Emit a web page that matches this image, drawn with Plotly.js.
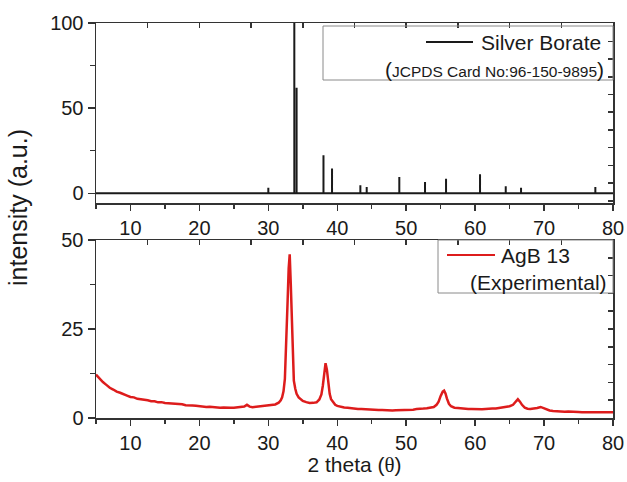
<!DOCTYPE html>
<html>
<head>
<meta charset="utf-8">
<script src="https://cdn.plot.ly/plotly-3.0.1.min.js"></script>
<style>html,body{margin:0;padding:0;background:#fff;}</style>
</head>
<body>
<div id="chart" style="width:627px;height:482px;"></div>
<script>
// Reference pattern: Silver Borate (JCPDS Card No:96-150-9895)
const stickPos = [30.0, 33.77, 34.1, 38.0, 39.24, 43.35, 44.27, 49.0, 52.73, 55.78, 60.71, 64.44, 66.66, 77.44];
const stickInt = [3.3, 100, 62, 22.3, 14.5, 4.7, 3.7, 9.6, 6.7, 8.6, 11.2, 4.1, 3.3, 3.7];

// Experimental pattern: AgB 13
const expX = [5, 5.5, 6, 6.5, 7, 7.5, 8, 8.5, 9, 9.5, 10, 10.5, 11, 11.5, 12, 12.5, 13, 13.5, 14, 14.5,
  15, 15.5, 16, 16.5, 17, 17.5, 18, 18.5, 19, 19.5, 20, 20.5, 21, 21.5, 22, 22.5, 23, 23.5, 24, 24.5,
  25, 25.5, 26, 26.5, 26.9, 27.3, 27.7, 28, 28.5, 29, 29.5, 30, 30.5, 31, 31.5, 31.8, 32.0, 32.2, 32.4, 32.6,
  32.8, 32.95, 33.1, 33.25, 33.4, 33.55, 33.7, 33.9, 34.1, 34.4, 34.7, 35.0, 35.5, 36.0, 36.5, 37.0, 37.4, 37.7, 37.9, 38.1,
  38.3, 38.5, 38.7, 38.9, 39.1, 39.4, 39.7, 40, 40.5, 41, 41.5, 42, 42.5, 43, 43.5, 44, 44.5, 45, 45.5, 46,
  46.5, 47, 47.5, 48, 48.5, 49, 49.5, 50, 50.5, 51, 51.5, 52, 52.5, 53, 53.5, 54, 54.4, 54.7, 55.0, 55.3,
  55.5, 55.7, 55.9, 56.2, 56.5, 57, 57.5, 58, 58.5, 59, 59.5, 60, 60.5, 61, 61.5, 62, 62.5, 63, 63.5, 64,
  64.5, 65, 65.5, 65.9, 66.2, 66.5, 66.8, 67.2, 67.6, 68, 68.5, 69, 69.5, 69.9, 70.3, 70.8, 71.3, 71.8, 72.5, 73,
  73.5, 74, 74.5, 75, 75.5, 76, 76.5, 77, 77.5, 78, 78.5, 79, 79.5, 80];
const expY = [12.2, 11.0, 10.1, 9.3, 8.5, 8.0, 7.4, 7.1, 6.6, 6.3, 5.9, 5.8, 5.4, 5.3, 5.0, 5.0, 4.7, 4.7, 4.4, 4.45,
  4.2, 4.15, 4.0, 3.95, 3.8, 3.85, 3.6, 3.65, 3.5, 3.45, 3.3, 3.25, 3.1, 3.15, 3.0, 3.05, 2.9, 2.95, 2.8, 2.85,
  2.9, 2.95, 3.0, 3.2, 3.7, 3.2, 3.05, 3.1, 3.25, 3.3, 3.45, 3.5, 3.65, 3.8, 4.3, 5.0, 5.8, 7.5, 11.0, 20.0,
  33.0, 42.0, 46.0, 38.0, 26.0, 15.0, 10.5, 8.3, 6.8, 5.8, 5.2, 4.8, 4.45, 4.2, 4.25, 4.4, 5.2, 6.6, 9.0, 12.8,
  15.4, 13.5, 9.6, 6.8, 5.3, 4.3, 3.7, 3.4, 3.1, 2.95, 2.9, 2.75, 2.7, 2.55, 2.55, 2.45, 2.4, 2.3, 2.35, 2.25,
  2.25, 2.15, 2.2, 2.1, 2.2, 2.2, 2.25, 2.2, 2.3, 2.35, 2.5, 2.5, 2.65, 2.75, 2.95, 3.1, 3.7, 4.6, 6.2, 7.4,
  7.7, 6.9, 5.5, 4.0, 3.3, 2.9, 2.8, 2.65, 2.65, 2.5, 2.5, 2.45, 2.5, 2.45, 2.55, 2.5, 2.65, 2.65, 2.8, 2.85,
  3.0, 3.3, 3.7, 4.6, 5.3, 4.6, 3.7, 2.9, 2.6, 2.55, 2.65, 2.8, 3.1, 2.8, 2.4, 2.1, 1.95, 1.85, 1.8, 1.75,
  1.8, 1.7, 1.75, 1.7, 1.65, 1.7, 1.65, 1.6, 1.65, 1.6, 1.65, 1.6, 1.6, 1.6];

const seriesRef = 'Silver Borate';
const seriesRefNote = '(JCPDS Card No:96-150-9895)';
const seriesExp = 'AgB 13';
const seriesExpNote = '(Experimental)';
const xTitle = '2 theta (θ)';
const yTitle = 'intensity (a.u.)';

// build stick pattern polyline with baseline
const sx = [5], sy = [0];
for (let i = 0; i < stickPos.length; i++) {
  sx.push(stickPos[i], stickPos[i], stickPos[i]);
  sy.push(0, stickInt[i], 0);
}
sx.push(80); sy.push(0);

const FONT = 'Liberation Sans, Arial, sans-serif';
const AX = '#333333';
const TXT = '#1a1a1a';

const traces = [
  {x: sx, y: sy, xaxis: 'x2', yaxis: 'y2', mode: 'lines', name: seriesRef,
   line: {color: '#1a1a1a', width: 2}, hoverinfo: 'skip', showlegend: false},
  {x: expX, y: expY, xaxis: 'x', yaxis: 'y', mode: 'lines', name: seriesExp,
   line: {color: '#dd1c1c', width: 2.5}, showlegend: false},
  // carriers for the mirrored (inside-tick) frame axes
  {x: expX, y: expY, xaxis: 'x3', yaxis: 'y3', mode: 'none', hoverinfo: 'skip', showlegend: false},
  {x: sx, y: sy, xaxis: 'x4', yaxis: 'y4', mode: 'none', hoverinfo: 'skip', showlegend: false}
];

const tickFont = {family: FONT, size: 20, color: TXT};
const baseX = {
  range: [5, 80], dtick: 10, tick0: 0, ticks: 'outside', ticklen: 6, tickwidth: 1.5, tickcolor: AX,
  showline: true, linecolor: AX, linewidth: 1.5, showgrid: false, zeroline: false,
  minor: {dtick: 5, tick0: 0, ticks: 'outside', ticklen: 4, tickwidth: 1.5, tickcolor: AX, showgrid: false},
  tickfont: tickFont
};
const mirX = {
  range: [5, 80], tick0: 5, dtick: 7.5, ticks: 'inside', ticklen: 5, tickwidth: 1.5, tickcolor: AX,
  showline: true, linecolor: AX, linewidth: 1.5, showgrid: false, zeroline: false, showticklabels: false,
  side: 'top'
};
const mirY = {
  ticks: 'inside', ticklen: 5, tickwidth: 1.5, tickcolor: AX, side: 'right',
  showline: true, linecolor: AX, linewidth: 1.5, showgrid: false, zeroline: false, showticklabels: false
};

const P = (py) => (418 - py) / 395;      // pixel y -> paper y
const PX = (px) => (px - 96) / 517;      // pixel x -> paper x

const layout = {
  width: 627, height: 482,
  margin: {l: 96, r: 14, t: 23, b: 64},
  paper_bgcolor: '#ffffff', plot_bgcolor: '#ffffff',
  font: {family: FONT, color: TXT},
  showlegend: false,
  xaxis: Object.assign({}, baseX, {anchor: 'y', domain: [0, 1],
    title: {text: '2 theta (<span style="font-family:Liberation Serif, serif">θ</span>)',
            font: {family: FONT, size: 21, color: TXT}, standoff: 5}}),
  yaxis: {domain: [0, P(240)], anchor: 'x', range: [0, 50], dtick: 25, tick0: 0,
    ticks: 'outside', ticklen: 7, tickwidth: 1.5, tickcolor: AX,
    showline: true, linecolor: AX, linewidth: 1.5, showgrid: false, zeroline: false,
    minor: {dtick: 12.5, tick0: 0, ticks: 'outside', ticklen: 5, tickwidth: 1.5, tickcolor: AX, showgrid: false},
    tickfont: tickFont},
  xaxis2: Object.assign({}, baseX, {anchor: 'y2', domain: [0, 1]}),
  yaxis2: {domain: [P(203), 1], anchor: 'x2', range: [-5.7, 100], dtick: 50, tick0: 0,
    ticks: 'outside', ticklen: 7, tickwidth: 1.5, tickcolor: AX,
    showline: true, linecolor: AX, linewidth: 1.5, showgrid: false, zeroline: false,
    minor: {dtick: 25, tick0: 0, ticks: 'outside', ticklen: 5, tickwidth: 1.5, tickcolor: AX, showgrid: false},
    tickfont: tickFont},
  xaxis3: Object.assign({}, mirX, {overlaying: 'x', anchor: 'y3'}),
  yaxis3: Object.assign({}, mirY, {overlaying: 'y', anchor: 'x3', range: [0, 50], tick0: 0, dtick: 5}),
  xaxis4: Object.assign({}, mirX, {overlaying: 'x2', anchor: 'y4'}),
  yaxis4: Object.assign({}, mirY, {overlaying: 'y2', anchor: 'x4', range: [-5.7, 100], tick0: 6, dtick: 10.4}),
  shapes: [
    {type: 'rect', xref: 'paper', yref: 'paper', x0: PX(323), x1: PX(613), y0: P(80), y1: P(26),
     line: {color: '#8a8a8a', width: 1}},
    {type: 'line', xref: 'paper', yref: 'paper', x0: PX(426), x1: PX(473), y0: P(42), y1: P(42),
     line: {color: '#1a1a1a', width: 2}},
    {type: 'rect', xref: 'paper', yref: 'paper', x0: PX(438), x1: PX(613), y0: P(293), y1: P(240),
     line: {color: '#8a8a8a', width: 1}},
    {type: 'line', xref: 'paper', yref: 'paper', x0: PX(447), x1: PX(495), y0: P(255), y1: P(255),
     line: {color: '#dd1c1c', width: 2}}
  ],
  annotations: [
    {xref: 'paper', yref: 'paper', x: PX(479), y: P(42), xanchor: 'left', yanchor: 'middle', showarrow: false,
     text: seriesRef, font: {family: FONT, size: 21, color: TXT}},
    {xref: 'paper', yref: 'paper', x: PX(606), y: P(70), xanchor: 'right', yanchor: 'middle', showarrow: false,
     text: '<span style="font-size:21px">(</span>' + seriesRefNote.slice(1, -1) + '<span style="font-size:21px">)</span>',
     font: {family: FONT, size: 15.5, color: TXT}},
    {xref: 'paper', yref: 'paper', x: PX(499), y: P(255), xanchor: 'left', yanchor: 'middle', showarrow: false,
     text: seriesExp, font: {family: FONT, size: 21, color: TXT}},
    {xref: 'paper', yref: 'paper', x: PX(609), y: P(282), xanchor: 'right', yanchor: 'middle', showarrow: false,
     text: seriesExpNote, font: {family: FONT, size: 21, color: TXT}},
    {xref: 'paper', yref: 'paper', x: PX(18), y: P(208), xanchor: 'center', yanchor: 'middle', showarrow: false,
     textangle: -90, text: yTitle, font: {family: FONT, size: 25, color: TXT}}
  ]
};

Plotly.newPlot('chart', traces, layout, {staticPlot: true, displayModeBar: false});
</script>
</body>
</html>
